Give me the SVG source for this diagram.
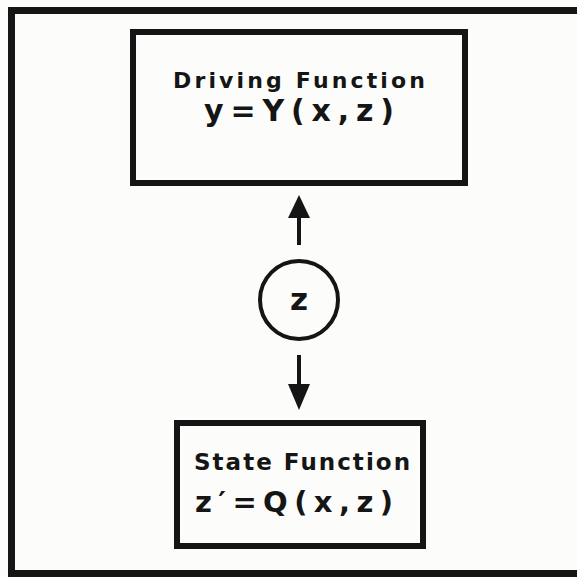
<svg xmlns="http://www.w3.org/2000/svg" width="577" height="577" viewBox="0 0 577 577">
<defs>
<style>
.box{fill:none;stroke:#151515;stroke-width:6}
.t{font-family:"DejaVu Sans","Liberation Sans",Arial,sans-serif;font-weight:bold;fill:#151515}
.ln{stroke:#151515;stroke-width:4;fill:none}
.hd{fill:#151515}
</style>
</defs>
<rect width="577" height="577" fill="#fcfcfa"/>
<rect x="11.5" y="10.5" width="600" height="563" fill="none" stroke="#151515" stroke-width="7"/>
<g id="driving">
<rect class="box" x="133" y="32" width="332" height="151"/>
<text class="t" x="173" y="88" font-size="22" textLength="252" lengthAdjust="spacing">Driving Function</text>
<text class="t" x="204" y="121" font-size="30" textLength="190" lengthAdjust="spacing">y=Y(x,z)</text>
</g>
<g id="state">
<rect class="box" x="177" y="423" width="246" height="123"/>
<text class="t" x="194" y="470" font-size="23" textLength="216" lengthAdjust="spacing">State Function</text>
<text class="t" x="195" y="512" font-size="29" textLength="198" lengthAdjust="spacing">z′=Q(x,z)</text>
</g>
<g id="z">
<circle cx="299" cy="300" r="39" fill="none" stroke="#151515" stroke-width="4"/>
<text class="t" x="299" y="310" font-size="31" text-anchor="middle">z</text>
</g>
<g id="connectors">
<line class="ln" x1="299" y1="245" x2="299" y2="214"/>
<polygon class="hd" points="299,195 288,218 310,218"/>
<line class="ln" x1="299" y1="355" x2="299" y2="388"/>
<polygon class="hd" points="299,410 288,384 310,384"/>
</g>
</svg>
